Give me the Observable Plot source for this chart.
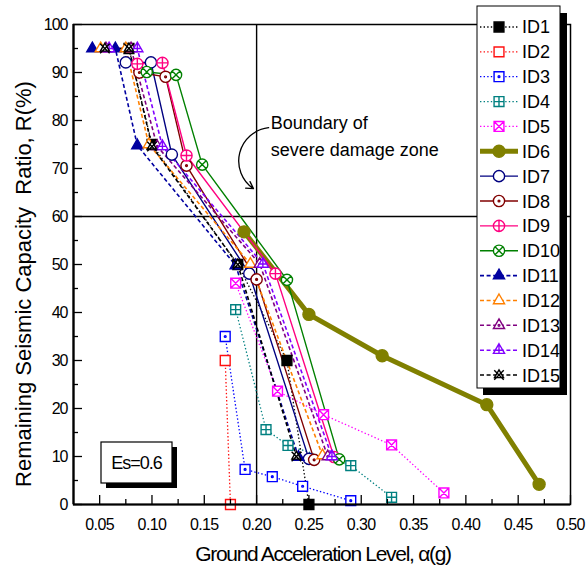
<!DOCTYPE html>
<html>
<head>
<meta charset="utf-8">
<script src="https://cdn.jsdelivr.net/npm/d3@7"></script>
<script src="https://cdn.jsdelivr.net/npm/@observablehq/plot@0.6"></script>
<style>
  body { margin: 0; background: #fff; }
  #chart svg { display: block; }
  g[aria-label="x-axis tick label"] { letter-spacing: -0.6px; }
  g[aria-label="y-axis tick label"] { letter-spacing: -1px; }
</style>
</head>
<body>
<div id="chart"></div>
<script>
// Remaining seismic capacity ratio R(%) against ground acceleration level (g)
const seriesIds = ["ID1","ID2","ID3","ID4","ID5","ID6","ID7","ID8","ID9","ID10","ID11","ID12","ID13","ID14","ID15"];

const id1  = [[0.078, 95], [0.100, 75], [0.182, 50], [0.229, 30], [0.250, 0]];
const id2  = [[0.170, 30], [0.175, 0]];
const id3  = [[0.170, 35], [0.189, 7.3], [0.215, 5.8], [0.244, 3.8], [0.290, 0.8]];
const id4  = [[0.180, 40.6], [0.209, 15.6], [0.230, 12.3], [0.290, 8.1], [0.329, 1.5]];
const id5  = [[0.180, 46.1], [0.220, 23.6], [0.264, 18.7], [0.329, 12.4], [0.379, 2.4]];
const id6  = [[0.188, 56.8], [0.250, 39.6], [0.320, 31.0], [0.420, 20.8], [0.470, 4.2]];
const id7  = [[0.075, 92.1], [0.099, 92.1], [0.119, 72.9], [0.193, 48.1], [0.250, 9.5]];
const id8  = [[0.088, 90.0], [0.113, 89.1], [0.133, 70.6], [0.200, 46.9], [0.255, 9.3]];
const id9  = [[0.086, 91.8], [0.110, 92.0], [0.133, 72.7], [0.218, 48.1], [0.274, 9.9]];
const id10 = [[0.095, 90.1], [0.123, 89.5], [0.148, 70.8], [0.229, 46.8], [0.279, 9.4]];
const id11 = [[0.043, 95], [0.065, 95], [0.086, 74.8], [0.180, 49.8], [0.240, 9.9]];
const id12 = [[0.051, 95], [0.075, 95], [0.097, 75.0], [0.194, 50.1], [0.263, 10.2]];
const id13 = [[0.056, 95], [0.080, 95], [0.105, 74.6], [0.203, 50.1], [0.268, 10.0]];
const id14 = [[0.059, 95], [0.086, 95], [0.110, 74.6], [0.206, 50.1], [0.272, 10.0]];
const id15 = [[0.055, 95], [0.078, 95], [0.100, 74.6], [0.182, 50.0], [0.238, 10.0]];
const seriesData = [id1, id2, id3, id4, id5, id6, id7, id8, id9, id10, id11, id12, id13, id14, id15];

// axis ticks
const xMajor = [0.05, 0.10, 0.15, 0.20, 0.25, 0.30, 0.35, 0.40, 0.45, 0.50];
const xMinor = [0.075, 0.125, 0.175, 0.225, 0.275, 0.325, 0.375, 0.425, 0.475];
const yMajor = [0, 10, 20, 30, 40, 50, 60, 70, 80, 90, 100];
const yMinor = [5, 15, 25, 35, 45, 55, 65, 75, 85, 95];

// boundary of the severe damage zone
const boundaryAcc = [0.20];
const boundaryR = [60];
const noteLines = ["Boundary of", "severe damage zone"];
const esLabel = "Es=0.6";

// marker outlines, drawn in a box of radius r
function marker(shape, inner) {
  return {
    draw(ctx, size) {
      const r = Math.sqrt(size / Math.PI);
      let h = r;
      if (shape === "square") {
        h = r * 0.88;
        ctx.moveTo(-h, -h); ctx.lineTo(h, -h); ctx.lineTo(h, h); ctx.lineTo(-h, h); ctx.closePath();
      } else if (shape === "circle") {
        ctx.moveTo(r, 0); ctx.arc(0, 0, r, 0, 2 * Math.PI);
      } else if (shape === "triangle") {
        const s = r * 1.15;
        ctx.moveTo(0, -s); ctx.lineTo(s * 0.866, s * 0.5); ctx.lineTo(-s * 0.866, s * 0.5); ctx.closePath();
        h = s;
      }
      if (inner === "dot") {
        ctx.moveTo(0.9, 0); ctx.arc(0, 0, 0.9, 0, 2 * Math.PI);
      } else if (inner === "plus") {
        if (shape === "triangle") {
          ctx.moveTo(0, -h); ctx.lineTo(0, h * 0.5);
          ctx.moveTo(-h * 0.577, 0); ctx.lineTo(h * 0.577, 0);
        } else {
          ctx.moveTo(-h, 0); ctx.lineTo(h, 0); ctx.moveTo(0, -h); ctx.lineTo(0, h);
        }
      } else if (inner === "times") {
        const k = shape === "circle" ? h * 0.707 : h;
        ctx.moveTo(-k, -k); ctx.lineTo(k, k); ctx.moveTo(-k, k); ctx.lineTo(k, -k);
      } else if (inner === "star") {
        const k = r * 0.85;
        ctx.moveTo(-k, -k); ctx.lineTo(k, k); ctx.moveTo(-k, k); ctx.lineTo(k, -k);
        ctx.moveTo(0, -k * 1.1); ctx.lineTo(k * 0.95, k * 0.55); ctx.lineTo(-k * 0.95, k * 0.55); ctx.closePath();
      }
    }
  };
}

const dotted = "1.4 2.2";
const dashed = "4 2.6";
const styles = [
  {color: "#000000", dash: dotted, width: 1.3, sym: marker("square"), filled: true},
  {color: "#ff1010", dash: dotted, width: 1.3, sym: marker("square"), filled: false},
  {color: "#0000ff", dash: dotted, width: 1.3, sym: marker("square", "dot"), filled: false},
  {color: "#008080", dash: dotted, width: 1.3, sym: marker("square", "plus"), filled: false},
  {color: "#ff00ff", dash: dotted, width: 1.3, sym: marker("square", "times"), filled: false},
  {color: "#808000", dash: null, width: 5, sym: marker("circle"), filled: true},
  {color: "#000080", dash: null, width: 1.4, sym: marker("circle"), filled: false},
  {color: "#800000", dash: null, width: 1.4, sym: marker("circle", "dot"), filled: false},
  {color: "#ff0080", dash: null, width: 1.4, sym: marker("circle", "plus"), filled: false},
  {color: "#008000", dash: null, width: 1.4, sym: marker("circle", "times"), filled: false},
  {color: "#0000a0", dash: dashed, width: 1.6, sym: marker("triangle"), filled: true},
  {color: "#ff8000", dash: dashed, width: 1.6, sym: marker("triangle"), filled: false},
  {color: "#800080", dash: dashed, width: 1.6, sym: marker("triangle", "dot"), filled: false},
  {color: "#8000ff", dash: dashed, width: 1.6, sym: marker("triangle", "plus"), filled: false},
  {color: "#000000", dash: dashed, width: 1.6, sym: marker("none", "star"), filled: false}
];
const markerR = 5.6;
const markerRadius = i => (i === 5 ? 6 : markerR);

const marks = [
  Plot.ruleX(boundaryAcc, {y1: 0, y2: 100, stroke: "black", strokeWidth: 1.4}),
  Plot.ruleY(boundaryR, {stroke: "black", strokeWidth: 1.4})
];
seriesData.forEach((pts, i) => {
  const st = styles[i];
  marks.push(Plot.line(pts, {x: d => d[0], y: d => d[1], stroke: st.color, strokeWidth: st.width,
    strokeDasharray: st.dash ?? undefined, strokeLinecap: "butt"}));
});
seriesData.forEach((pts, i) => {
  const st = styles[i];
  marks.push(Plot.dot(pts, {x: d => d[0], y: d => d[1], symbol: st.sym, r: markerRadius(i),
    stroke: st.color, strokeWidth: 1.4, fill: st.filled ? st.color : "white"}));
});

// axes: ticks point inward, labels outside
marks.push(
  Plot.axisX({ticks: xMajor, tickSize: -9, tickFormat: () => "", label: null, strokeWidth: 1.3}),
  Plot.axisX({ticks: xMinor, tickSize: -5, tickFormat: () => "", label: null, strokeWidth: 1.3}),
  Plot.axisX({ticks: xMajor, tickSize: 0, tickPadding: 14, tickFormat: d3.format(".2f"), label: null, fontSize: 16}),
  Plot.axisY({ticks: yMajor, tickSize: -9, tickFormat: () => "", label: null, strokeWidth: 1.3}),
  Plot.axisY({ticks: yMinor, tickSize: -5, tickFormat: () => "", label: null, strokeWidth: 1.3}),
  Plot.axisY({ticks: yMajor, tickSize: 0, tickPadding: 6, tickFormat: d => String(d), label: null, fontSize: 16}),
  Plot.frame({stroke: "black", strokeWidth: 1.5}),
  Plot.ruleX([0.025], {stroke: "black", strokeWidth: 2.2}),
  Plot.ruleY([0], {stroke: "black", strokeWidth: 2.2}),
  Plot.arrow([{x1: 0.2115, y1: 78.5, x2: 0.197, y2: 65.8}], {x1: "x1", y1: "y1", x2: "x2", y2: "y2",
    bend: -70, stroke: "black", strokeWidth: 1.3, headLength: 9}),
  Plot.text([noteLines[0]], {x: 0.2135, y: 79.5, text: d => d, textAnchor: "start", fontSize: 18,
    fill: "black", style: "letter-spacing:-0.8px"}),
  Plot.text([noteLines[1]], {x: 0.2135, y: 73.9, text: d => d, textAnchor: "start", fontSize: 18,
    fill: "black", style: "letter-spacing:-0.8px"})
);

const svg = Plot.plot({
  width: 587,
  height: 574,
  marginLeft: 73,
  marginRight: 17,
  marginTop: 24,
  marginBottom: 70,
  style: {fontFamily: "'Liberation Sans', Arial, sans-serif", color: "black", background: "white"},
  x: {domain: [0.025, 0.50]},
  y: {domain: [0, 100]},
  marks
});

const root = d3.select(svg);

// axis titles
root.append("text")
  .attr("x", 323).attr("y", 561)
  .attr("text-anchor", "middle")
  .attr("font-size", 21).attr("letter-spacing", "-1.3px")
  .attr("fill", "black")
  .text("Ground Acceleration Level, \u03b1(g)");
root.append("text")
  .attr("transform", "translate(31,284) rotate(-90)")
  .attr("text-anchor", "middle")
  .attr("font-size", 22)
  .attr("fill", "black")
  .text("Remaining Seismic Capacity  Ratio, R(%)");

// Es box with drop shadow
const es = root.append("g");
es.append("rect").attr("x", 106).attr("y", 447).attr("width", 71).attr("height", 41).attr("fill", "black");
es.append("rect").attr("x", 101).attr("y", 442).attr("width", 71).attr("height", 41)
  .attr("fill", "white").attr("stroke", "black").attr("stroke-width", 1.2);
es.append("text").attr("x", 136.5).attr("y", 463).attr("dy", "0.35em").attr("text-anchor", "middle")
  .attr("font-size", 18).attr("letter-spacing", "-1px").attr("fill", "black").text(esLabel);

// legend with drop shadow
const lg = root.append("g");
lg.append("rect").attr("x", 483).attr("y", 13).attr("width", 84).attr("height", 382).attr("fill", "black");
lg.append("rect").attr("x", 477).attr("y", 6).attr("width", 83).attr("height", 382)
  .attr("fill", "white").attr("stroke", "black").attr("stroke-width", 1);
seriesIds.forEach((id, i) => {
  const st = styles[i];
  const y = 27 + i * 24.86;
  lg.append("line").attr("x1", 480).attr("x2", 518).attr("y1", y).attr("y2", y)
    .attr("stroke", st.color).attr("stroke-width", st.width)
    .attr("stroke-dasharray", st.dash ?? null);
  lg.append("path").attr("transform", `translate(499,${y})`)
    .attr("d", d3.symbol(st.sym, Math.PI * markerRadius(i) ** 2)())
    .attr("stroke", st.color).attr("stroke-width", 1.4)
    .attr("fill", st.filled ? st.color : "white");
  lg.append("text").attr("x", 522).attr("y", y).attr("dy", "0.36em")
    .attr("text-anchor", "start")
    .attr("font-size", 18).attr("fill", "black").text(id);
});

document.getElementById("chart").append(svg);
</script>
</body>
</html>
